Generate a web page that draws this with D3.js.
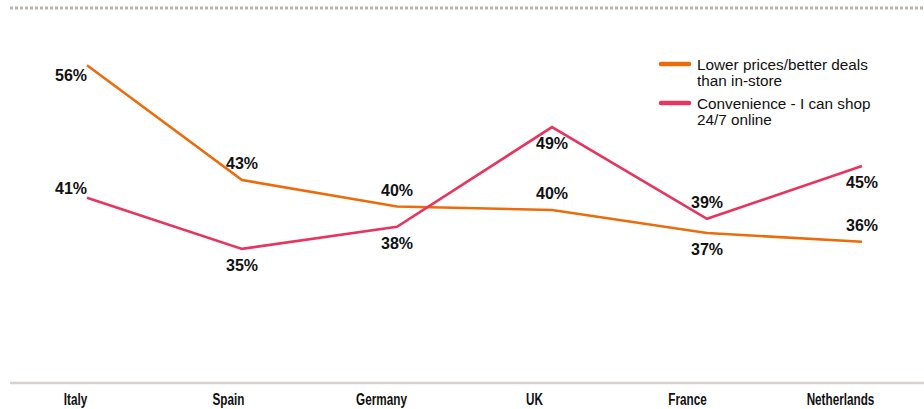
<!DOCTYPE html>
<html><head><meta charset="utf-8">
<script src="https://cdn.jsdelivr.net/npm/d3@7"></script>
<style>body{margin:0;background:#fff}svg{display:block}</style>
</head><body>
<svg id="c" width="924" height="409"></svg>
<script>
const categories = ["Italy", "Spain", "Germany", "UK", "France", "Netherlands"];
const lowerPrices = [56, 43, 40, 39.6, 37, 36];
const convenience = [41, 35.2, 37.7, 49, 38.6, 44.6];
const seriesNames = ["Lower prices/better deals than in-store", "Convenience - I can shop 24/7 online"];
const legendLines = [["Lower prices/better deals", "than in-store"], ["Convenience - I can shop", "24/7 online"]];
const colors = ["#ec6c0c", "#e6355e"];
// label placement per point: -1 above, +1 below
const lowerPlace = [1, -1, -1, -1, 1, -1];
const convPlace = [-1, 1, 1, 1, -1, 1];

const svg = d3.select("#c");
const W = 924, H = 409;

const x = d3.scalePoint().domain(categories).range([87, 862]);
const xl = d3.scalePoint().domain(categories).range([75, 840]);
const y = d3.scaleLinear().domain([20, 60]).range([383, 30]);

// dotted top rule
svg.append("line").attr("x1", 10).attr("x2", W).attr("y1", 8).attr("y2", 8)
  .attr("stroke", "#bcb3ac").attr("stroke-width", 3).attr("stroke-dasharray", "3 2");

// baseline
svg.append("line").attr("x1", 10).attr("x2", W).attr("y1", 383).attr("y2", 383)
  .attr("stroke", "#d5d2d0").attr("stroke-width", 2.5);

// x axis labels
const ax = svg.append("g").attr("transform", "translate(0,383)")
  .call(d3.axisBottom(xl).tickSize(0).tickPadding(9));
ax.select(".domain").remove();
ax.selectAll("text").attr("font-family", "'Liberation Sans',Arial,Helvetica,sans-serif")
  .attr("font-weight", "bold").attr("font-size", 17).attr("fill", "#111").attr("dy", "0.76em")
  .attr("transform", "scale(0.69,1)");

const series = [
  {vals: lowerPrices, place: lowerPlace, color: colors[0]},
  {vals: convenience, place: convPlace, color: colors[1]}
];
const line = d3.line().x((d, i) => x(categories[i])).y(d => y(d));

series.forEach(s => {
  svg.append("path").datum(s.vals).attr("d", line).attr("fill", "none")
    .attr("stroke", s.color).attr("stroke-width", 2.6).attr("stroke-linejoin", "miter");
});

series.forEach(s => {
  svg.append("g").selectAll("text").data(s.vals).join("text")
    .attr("x", (d, i) => x(categories[i]) + (i === 0 ? -16 : 0))
    .attr("y", (d, i) => {
      const below = s.place[i] > 0;
      if (i === 0) return y(d) + (below ? 16 : -4);
      return y(d) + (below ? 22 : -11);
    })
    .attr("text-anchor", "middle")
    .attr("font-family", "'Liberation Sans',Arial,Helvetica,sans-serif")
    .attr("font-weight", "bold").attr("font-size", 16).attr("fill", "#111")
    .text(d => Math.round(d) + "%");
});

// legend
const lg = svg.append("g");
legendLines.forEach((ls, k) => {
  const y0 = 64 + k * 39;
  lg.append("line").attr("x1", 661).attr("x2", 689).attr("y1", y0).attr("y2", y0)
    .attr("stroke", colors[k]).attr("stroke-width", 4.5).attr("stroke-linecap", "round");
  ls.forEach((t, j) => {
    lg.append("text").attr("x", 697).attr("y", y0 + 6 + j * 16)
      .attr("font-family", "'Liberation Sans',Arial,Helvetica,sans-serif")
      .attr("font-size", 15.3).attr("fill", "#111").text(t);
  });
});
</script>
</body></html>
